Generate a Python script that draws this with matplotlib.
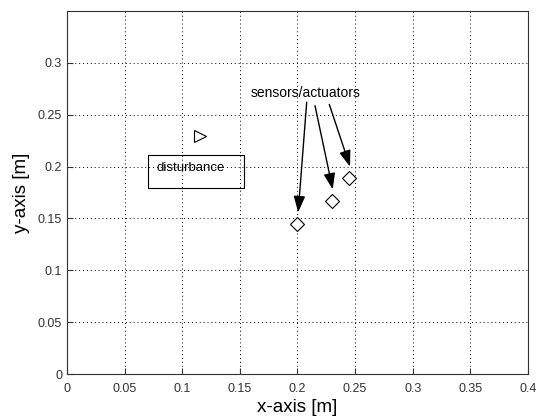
import matplotlib
matplotlib.use('Agg')
import matplotlib.pyplot as plt
from matplotlib.patches import Rectangle

plt.rcParams['font.family'] = ['Liberation Sans', 'DejaVu Sans']

# sensor / actuator positions [m]
sensor_x = [0.20, 0.23, 0.245]
sensor_y = [0.145, 0.167, 0.189]

# disturbance source position [m]
dist_x = [0.115]
dist_y = [0.229]

x_ticks = [0, 0.05, 0.1, 0.15, 0.2, 0.25, 0.3, 0.35, 0.4]
y_ticks = [0, 0.05, 0.1, 0.15, 0.2, 0.25, 0.3]

fig = plt.figure(figsize=(5.36, 4.19), dpi=100)
ax = fig.add_axes([0.125, 0.107, 0.86, 0.867])

ax.plot(sensor_x, sensor_y, 'D', mfc='white', mec='black', ms=7, mew=0.8, linestyle='none')
ax.plot(dist_x, dist_y, '>', mfc='white', mec='black', ms=9, mew=0.8, linestyle='none')

# label box for the disturbance (transparent, grid shows through)
ax.add_patch(Rectangle((0.0705, 0.1795), 0.083, 0.032, fc='none', ec='black', lw=0.8, zorder=3))
ax.text(0.1076, 0.1985, 'disturbance', ha='center', va='center', fontsize=9.5, zorder=4)

ax.text(0.207, 0.2705, 'sensors/actuators', ha='center', va='center', fontsize=10)

# arrow start points, pointing at each sensor
starts = [(0.208, 0.262), (0.2152, 0.2587), (0.2276, 0.2599)]
for (sx, sy), x, y in zip(starts, sensor_x, sensor_y):
    ax.annotate('', xy=(x + 0.0006, y + 0.011), xytext=(sx, sy),
                arrowprops=dict(arrowstyle='-|>,head_length=0.7,head_width=0.25',
                                color='black', lw=1.0,
                                mutation_scale=14, shrinkA=0, shrinkB=0))

ax.set_xlim(0, 0.4)
ax.set_ylim(0, 0.35)
ax.set_xticks(x_ticks)
ax.set_xticklabels(['0', '0.05', '0.1', '0.15', '0.2', '0.25', '0.3', '0.35', '0.4'])
ax.set_yticks(y_ticks)
ax.set_yticklabels(['0', '0.05', '0.1', '0.15', '0.2', '0.25', '0.3'])
ax.tick_params(direction='in', labelsize=9, length=4, colors='#333333')
ax.tick_params(axis='x', pad=6)
ax.grid(True, linestyle=(0, (1, 3)), color='black', linewidth=0.7)
for s in ax.spines.values():
    s.set_color('#333333')
ax.set_xlabel('x-axis [m]', fontsize=13.5, labelpad=3)
ax.set_ylabel('y-axis [m]', fontsize=13.5, labelpad=6)

fig.savefig('out.png', dpi=100)
